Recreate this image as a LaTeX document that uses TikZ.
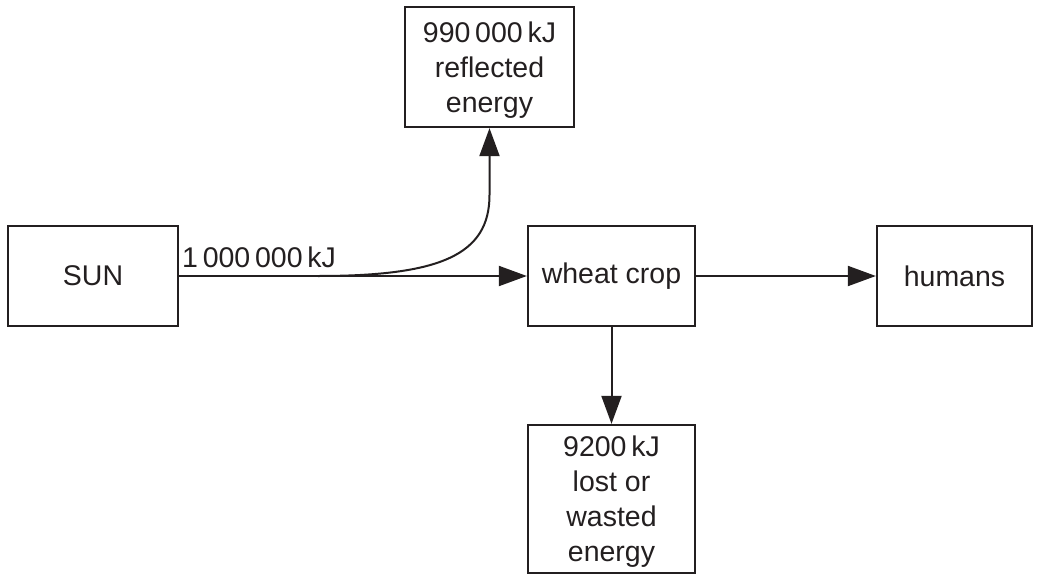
\documentclass[tikz,border=0pt]{standalone}
\usepackage{fontspec}
\setmainfont{Liberation Sans}
\usetikzlibrary{arrows.meta}
\definecolor{ink}{HTML}{231F20}
\begin{document}
\begin{tikzpicture}[x=1pt,y=-1pt,
  box/.style={draw=ink,line width=2.3pt,rectangle,inner sep=0pt,align=center,
    text=ink,font=\fontsize{28.5}{35}\selectfont},
  multibox/.style={box,text depth=0pt},
  arr/.style={draw=ink,line width=2pt,-{Triangle[length=28pt,width=20pt]}},
  lbl/.style={text=ink,inner sep=0pt,font=\fontsize{28.5}{35}\selectfont}]
\useasboundingbox (0,0) rectangle (1037,576);
\node[box,minimum width=170pt,minimum height=100pt] (sun) at (93,276) {SUN};
\node[box,minimum width=167pt,minimum height=100pt] (wheat) at (611.5,276) {wheat crop};
\node[box,minimum width=155pt,minimum height=100pt] (humans) at (954.5,276) {humans};
\node[multibox,minimum width=169pt,minimum height=120pt] (refl) at (489.5,67) {990\,000\,kJ\\reflected\\energy};
\node[multibox,minimum width=167pt,minimum height=148pt] (lost) at (611.5,499) {9200\,kJ\\lost or\\wasted\\energy};
\node[lbl,anchor=base west] (lab) at (182,267) {1\,000\,000\,kJ};
\coordinate (branch) at (318,276);
\draw[arr] (sun) -- (wheat);
\draw[arr] (branch) .. controls (440,276) and (489.5,255) .. (489.5,195) -- (refl.south);
\draw[arr] (wheat) -- (humans);
\draw[arr] (wheat) -- (lost);
\end{tikzpicture}
\end{document}
